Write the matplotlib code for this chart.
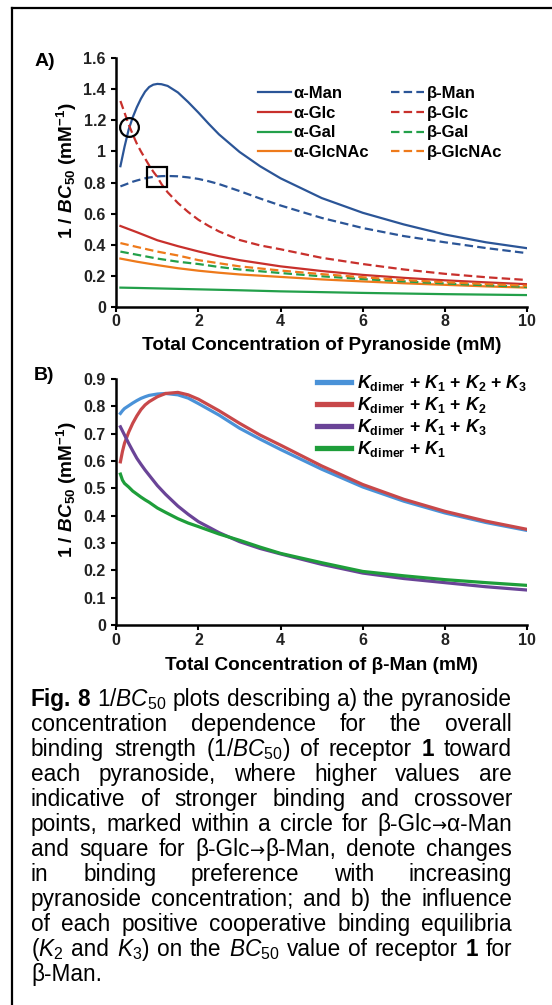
import matplotlib
matplotlib.use("Agg")
import matplotlib.pyplot as plt
from matplotlib.lines import Line2D
from matplotlib.ticker import FuncFormatter

plt.rcParams['font.family'] = ['Liberation Sans', 'DejaVu Sans']
plt.rcParams['mathtext.fontset'] = 'custom'
plt.rcParams['mathtext.rm'] = 'Liberation Sans'
plt.rcParams['mathtext.it'] = 'Liberation Sans:italic'
plt.rcParams['mathtext.bf'] = 'Liberation Sans:bold'
plt.rcParams['mathtext.bfit'] = 'Liberation Sans:italic:bold'

# ---- panel A: 1/BC50 vs total pyranoside concentration ----
xa_fine = [0.1, 0.2, 0.3, 0.4, 0.5, 0.6, 0.7, 0.8, 0.9, 1.0, 1.1, 1.25, 1.5,
           1.75, 2, 2.25, 2.5, 3, 3.5, 4, 5, 6, 7, 8, 9, 10]
a_man = [0.905, 1.03, 1.14, 1.22, 1.285, 1.34, 1.385, 1.415, 1.43, 1.435, 1.433,
         1.422, 1.38, 1.318, 1.25, 1.178, 1.11, 0.997, 0.905, 0.827, 0.70, 0.605,
         0.53, 0.465, 0.415, 0.377]
b_man = [0.775, 0.785, 0.795, 0.805, 0.813, 0.82, 0.827, 0.832, 0.836, 0.839,
         0.841, 0.842, 0.84, 0.833, 0.823, 0.808, 0.79, 0.745, 0.697, 0.652, 0.572,
         0.507, 0.455, 0.415, 0.378, 0.345]
b_glc = [1.325, 1.25, 1.175, 1.11, 1.05, 1.0, 0.955, 0.91, 0.87, 0.835, 0.79,
         0.737, 0.668, 0.61, 0.56, 0.52, 0.485, 0.43, 0.395, 0.37, 0.315, 0.275,
         0.24, 0.212, 0.19, 0.172]

xa = [0.1, 0.5, 1, 1.5, 2, 2.5, 3, 4, 5, 6, 7, 8, 9, 10]
a_glc = [0.52, 0.48, 0.428, 0.39, 0.356, 0.325, 0.30, 0.26, 0.23, 0.205, 0.186, 0.17, 0.157, 0.145]
b_glcnac = [0.41, 0.385, 0.355, 0.33, 0.30, 0.28, 0.26, 0.233, 0.21, 0.19, 0.172, 0.158, 0.146, 0.135]
b_gal = [0.355, 0.335, 0.31, 0.29, 0.275, 0.256, 0.24, 0.217, 0.196, 0.178, 0.163, 0.15, 0.138, 0.128]
a_glcnac = [0.31, 0.29, 0.268, 0.248, 0.232, 0.219, 0.208, 0.192, 0.176, 0.163, 0.151, 0.141, 0.131, 0.123]
a_gal = [0.123, 0.121, 0.118, 0.115, 0.112, 0.109, 0.106, 0.099, 0.094, 0.089, 0.085, 0.081, 0.078, 0.075]

# crossover points (beta-Glc -> alpha-Man, beta-Glc -> beta-Man)
cross_circle = (0.32, 1.155)
cross_square = (0.99, 0.838)

# ---- panel B: 1/BC50 vs total beta-Man concentration ----
xb = [0.1, 0.15, 0.2, 0.3, 0.4, 0.5, 0.6, 0.7, 0.8, 1.0, 1.2, 1.5, 1.75, 2, 2.5,
      3, 3.5, 4, 5, 6, 7, 8, 9, 10]
k_all = [0.774, 0.784, 0.792, 0.802, 0.812, 0.821, 0.829, 0.835, 0.84, 0.845, 0.847,
         0.842, 0.83, 0.81, 0.768, 0.72, 0.68, 0.642, 0.57, 0.505, 0.453, 0.41, 0.375, 0.346]
k_12 = [0.597, 0.635, 0.665, 0.705, 0.738, 0.765, 0.788, 0.805, 0.817, 0.835, 0.847,
        0.851, 0.842, 0.826, 0.784, 0.738, 0.695, 0.658, 0.582, 0.514, 0.46, 0.416, 0.38, 0.35]
k_13 = [0.725, 0.71, 0.695, 0.665, 0.637, 0.61, 0.588, 0.567, 0.548, 0.51, 0.478,
        0.435, 0.405, 0.378, 0.338, 0.305, 0.28, 0.26, 0.222, 0.19, 0.17, 0.155, 0.14, 0.128]
k_1 = [0.552, 0.53, 0.518, 0.505, 0.49, 0.479, 0.468, 0.458, 0.449, 0.428, 0.412,
       0.389, 0.373, 0.36, 0.333, 0.31, 0.285, 0.262, 0.228, 0.196, 0.18, 0.166, 0.155, 0.145]

yticks_a = [0, 0.2, 0.4, 0.6, 0.8, 1.0, 1.2, 1.4, 1.6]
yticks_b = [0, 0.1, 0.2, 0.3, 0.4, 0.5, 0.6, 0.7, 0.8, 0.9]
xticks = [0, 2, 4, 6, 8, 10]

BLUE, RED, GREEN, ORANGE = '#2B5597', '#C8302C', '#23A04A', '#EE7A1B'
B_BLUE, B_RED, B_PURPLE, B_GREEN = '#4A92D8', '#C8484A', '#6A4497', '#1E9E3A'

fig = plt.figure(figsize=(5.52, 10.05), dpi=100)


def style_axes(ax, yticks):
    for s in ['top', 'right']:
        ax.spines[s].set_visible(False)
    for s in ['left', 'bottom']:
        ax.spines[s].set_linewidth(1.8)
    ax.set_xlim(0, 10)
    ax.set_ylim(yticks[0], yticks[-1])
    ax.set_xticks(xticks)
    ax.set_yticks(yticks)
    fmt = FuncFormatter(lambda v, p: f'{v:g}')
    ax.yaxis.set_major_formatter(fmt)
    ax.xaxis.set_major_formatter(fmt)
    ax.tick_params(direction='out', length=3.5, width=1.5, labelsize=11.5, pad=2,
                   colors='black')
    ax.tick_params(axis='y', pad=4)
    for lab in ax.get_xticklabels() + ax.get_yticklabels():
        lab.set_fontweight('bold')
        lab.set_color('#222222')


dash = (3.8, 1.9)
lw = 1.6
ylab = r'1 / $\mathbfit{BC}_{\mathbf{50}}$ (mM$^{\mathbf{-1}}$)'

# panel A
axa = fig.add_axes([0.2107, 0.6948, 0.744, 0.2472])
style_axes(axa, yticks_a)
axa.plot(xa_fine, a_man, color=BLUE, lw=lw, label='α-Man')
axa.plot(xa, a_glc, color=RED, lw=lw, label='α-Glc')
axa.plot(xa, a_gal, color=GREEN, lw=lw, label='α-Gal')
axa.plot(xa, a_glcnac, color=ORANGE, lw=lw, label='α-GlcNAc')
axa.plot(xa_fine, b_man, color=BLUE, lw=lw, ls=(0, dash), label='β-Man')
axa.plot(xa_fine, b_glc, color=RED, lw=lw, ls=(0, dash), label='β-Glc')
axa.plot(xa, b_gal, color=GREEN, lw=lw, ls=(0, dash), label='β-Gal')
axa.plot(xa, b_glcnac, color=ORANGE, lw=lw, ls=(0, dash), label='β-GlcNAc')
axa.plot([cross_circle[0]], [cross_circle[1]], marker='o', ms=13.5, mfc='none',
         mec='black', mew=1.6, ls='none')
axa.plot([cross_square[0]], [cross_square[1]], marker='s', ms=14.5, mfc='none',
         mec='black', mew=1.6, ls='none')
h, l = axa.get_legend_handles_labels()
axa.legend(h, l, ncol=2, loc='upper left', bbox_to_anchor=(0.345, 0.888),
           frameon=False, borderpad=0, borderaxespad=0, handlelength=2.0,
           handletextpad=0.15, columnspacing=1.3, labelspacing=0.28,
           prop={'weight': 'bold', 'size': 12})
axa.text(0.5, -0.155, 'Total Concentration of Pyranoside (mM)', transform=axa.transAxes,
         ha='center', va='center', fontsize=13.7, fontweight='bold')
axa.text(-0.121, 0.547, ylab, transform=axa.transAxes, rotation=90, ha='center',
         va='center', fontsize=13.7, fontweight='bold')

# panel B
axb = fig.add_axes([0.2107, 0.3781, 0.744, 0.2448])
style_axes(axb, yticks_b)
lwb = 2.3
kd = r'$\mathbfit{K}_{\mathbf{dimer}}$'
k1 = r'$\mathbfit{K}_{\mathbf{1}}$'
k2 = r'$\mathbfit{K}_{\mathbf{2}}$'
k3 = r'$\mathbfit{K}_{\mathbf{3}}$'
axb.plot(xb, k_all, color=B_BLUE, lw=lwb, label=' + '.join([kd, k1, k2, k3]))
axb.plot(xb, k_12, color=B_RED, lw=lwb, label=' + '.join([kd, k1, k2]))
axb.plot(xb, k_13, color=B_PURPLE, lw=lwb, label=' + '.join([kd, k1, k3]))
axb.plot(xb, k_1, color=B_GREEN, lw=lwb, label=' + '.join([kd, k1]))
leg = axb.legend(loc='upper left', bbox_to_anchor=(0.489, 1.025), frameon=False,
                 borderpad=0, borderaxespad=0, handlelength=1.9, handletextpad=0.35,
                 labelspacing=0.12, prop={'weight': 'bold', 'size': 12.8})
for ln in leg.get_lines():
    ln.set_linewidth(3.8)
axb.text(0.5, -0.163, 'Total Concentration of β-Man (mM)', transform=axb.transAxes,
         ha='center', va='center', fontsize=13.7, fontweight='bold')
axb.text(-0.121, 0.549, ylab, transform=axb.transAxes, rotation=90, ha='center',
         va='center', fontsize=13.7, fontweight='bold')

W, H = 552.0, 1005.0
fig.text(45 / W, 1 - 62 / H, 'A)', ha='center', va='center', fontsize=14, fontweight='bold')
fig.text(44 / W, 1 - 375 / H, 'B)', ha='center', va='center', fontsize=14, fontweight='bold')

# frame lines (top and left)
fig.add_artist(Line2D([11.5 / W, 1.0], [1 - 8 / H, 1 - 8 / H], transform=fig.transFigure,
                      color='black', lw=1.6))
fig.add_artist(Line2D([12 / W, 12 / W], [1 - 8 / H, 0], transform=fig.transFigure,
                      color='black', lw=1.6))

# ---- caption, justified, placed word by word ----
BC = r'$\mathit{BC}_{50}$'
caption = [
    [[('Fig.', 'b')], [('8', 'b')], [('1/' + BC, 'n')], [('plots', 'n')], [('describing', 'n')],
     [('a)', 'n')], [('the', 'n')], [('pyranoside', 'n')]],
    'concentration dependence for the overall',
    [[('binding', 'n')], [('strength', 'n')], [('(1/' + BC + ')', 'n')], [('of', 'n')],
     [('receptor', 'n')], [('1', 'b')], [('toward', 'n')]],
    'each pyranoside, where higher values are',
    'indicative of stronger binding and crossover',
    [[('points,', 'n')], [('marked', 'n')], [('within', 'n')], [('a', 'n')], [('circle', 'n')],
     [('for', 'n')], [('β-Glc', 'n'), ('→', 'a'), ('α-Man', 'n')]],
    [[('and', 'n')], [('square', 'n')], [('for', 'n')],
     [('β-Glc', 'n'), ('→', 'a'), ('β-Man,', 'n')], [('denote', 'n')], [('changes', 'n')]],
    'in binding preference with increasing',
    'pyranoside concentration; and b) the influence',
    'of each positive cooperative binding equilibria',
    [[('(' + r'$\mathit{K}_2$', 'n')], [('and', 'n')], [(r'$\mathit{K}_3$' + ')', 'n')],
     [('on', 'n')], [('the', 'n')], [(BC, 'n')], [('value', 'n')], [('of', 'n')],
     [('receptor', 'n')], [('1', 'b')], [('for', 'n')]],
    'β-Man.',
]
cap_left, cap_right = 31.0, 512.0
base0, step = 706.0, 25.0
fs_cap = 16.3
renderer = fig.canvas.get_renderer()
for i, line in enumerate(caption):
    if isinstance(line, str):
        words = [[(w, 'n')] for w in line.split()]
    else:
        words = line
    placed = []
    widths = []
    for word in words:
        segs = []
        wsum = 0.0
        for txt, st in word:
            kw = dict(fontsize=fs_cap, va='baseline', ha='left',
                      fontweight='bold' if st == 'b' else 'normal')
            if st == 'a':
                kw['family'] = 'DejaVu Sans'
                kw['fontsize'] = fs_cap * 0.8
            t = fig.text(0, 0, txt, **kw)
            bb = t.get_window_extent(renderer)
            segs.append((t, wsum))
            wsum += bb.width
        placed.append(segs)
        widths.append(wsum)
    y = 1 - (base0 + i * step) / H
    last = i == len(caption) - 1
    if last or len(words) == 1:
        gap = 4.5
    else:
        gap = (cap_right - cap_left - sum(widths)) / (len(words) - 1)
    x = cap_left
    for segs, wd in zip(placed, widths):
        for t, off in segs:
            t.set_position(((x + off) / W, y))
        x += wd + gap

fig.savefig('out.png', dpi=100)
